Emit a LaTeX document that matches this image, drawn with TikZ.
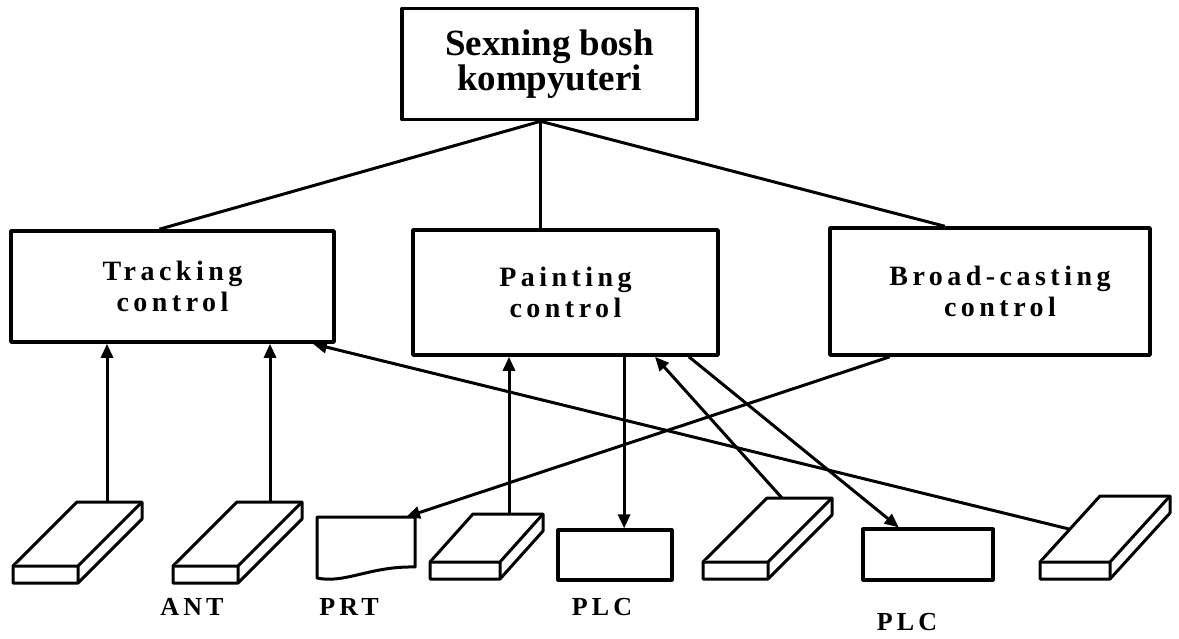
\documentclass[tikz,border=0pt]{standalone}
\usepackage{fontspec}
\setmainfont{Liberation Serif}
\newfontfamily\spacedfont[LetterSpace=16]{Liberation Serif}
\usetikzlibrary{arrows.meta,calc}

\tikzset{
  box/.style={draw, line width=3.6pt, rectangle, inner sep=0pt, align=center},
  ctl/.style={box, font=\spacedfont\bfseries\fontsize{28}{31}\selectfont},
  lbl/.style={font=\spacedfont\bfseries\fontsize{26}{28}\selectfont, anchor=base, inner sep=0pt},
  link/.style={line width=3pt},
  arr/.style={link, -{Triangle[length=14pt,width=12pt]}},
  slab/.style={line width=3pt, line join=round, fill=white},
  % flat device seen in perspective: back-left corner at the origin,
  % args: width, depth shift in x, depth shift in y
  pics/slabdev/.style n args={3}{code={
    \draw[slab] (0,0) -- (#1,0) -- (#1,17) -- (#1-#2,#3+17) -- (-#2,#3+17) -- (-#2,#3) -- cycle;
    \draw[slab] (-#2,#3) -- (#1-#2,#3) -- (#1,0) (#1-#2,#3) -- (#1-#2,#3+17);
  }}
}

\begin{document}
\begin{tikzpicture}[x=1pt,y=-1pt,line join=round]
\useasboundingbox (0,0) rectangle (1179,639);

% main computer and the three control units
\node[box, minimum width=295pt, minimum height=111pt,
      font=\bfseries\fontsize{37}{35}\selectfont] (pc) at (549.5,64) {Sexning bosh\\kompyuteri};
\node[ctl, minimum width=323pt, minimum height=111pt] (trk) at (172.5,286.5) {Tracking\\control};
\node[ctl, minimum width=305pt, minimum height=125pt] (pnt) at (565.5,292.5) {Painting\\control};
\node[ctl, minimum width=320pt, minimum height=127pt] (brd) at (990,291.5)
  {\hspace*{20pt}Broad-casting\\\hspace*{20pt}control};

% PLC boxes
\node[box, line width=3.2pt, minimum width=114pt, minimum height=50pt] (plc1) at (615,555) {};
\node[box, line width=3.2pt, minimum width=130pt, minimum height=51pt] (plc2) at (928,554.5) {};

% attachment points on the field devices
\coordinate (d1) at (107,502);
\coordinate (d2) at (270,502);
\coordinate (d3) at (509,514);
\coordinate (d4) at (782,498);
\coordinate (d5) at (1069,529);
\coordinate (prt) at (406,517);

% bus from the main computer
\coordinate (hub) at ($(pc.south west)!0.47!(pc.south east)$);
\draw[link] (hub) -- ($(trk.north west)!0.46!(trk.north east)$);
\draw[link] (hub) -- (hub |- pnt.north);
\draw[link] (hub) -- ($(brd.north west)!0.36!(brd.north east)$);

% tracking links
\draw[arr] (d1) -- (d1 |- trk.south);
\draw[arr] (d2) -- (d2 |- trk.south);
\draw[arr] (d5) -- ($(trk.south west)!0.93!(trk.south east)$);

% painting links
\coordinate (p1) at ($(pnt.south west)!0.69!(pnt.south east)$);
\draw[arr] (d3) -- (d3 |- pnt.south);
\draw[arr] (p1) -- (p1 |- plc1.north);
\draw[arr] (d4) -- ($(pnt.south west)!0.79!(pnt.south east)$);
\draw[arr] ($(pnt.south west)!0.90!(pnt.south east)$) -- ($(plc2.north west)!0.28!(plc2.north east)$);

% broadcasting link to the printer
\draw[arr] ($(brd.south west)!0.19!(brd.south east)$) -- (prt);

% field devices
\pic at (77,502) {slabdev={65}{64}{64}};
\pic at (237,502) {slabdev={65}{64}{64}};
\pic at (473,514) {slabdev={70}{43}{48}};
\pic at (767,498) {slabdev={65}{64}{64}};
\pic at (1100,496) {slabdev={70}{60}{66}};

% printer (document shape)
\draw[slab] (317,517) -- (415,517) -- (415,567)
  .. controls (370,566) and (345,584) .. (317,578) -- cycle;

% device labels
\node[lbl] (lant) at (192,615) {ANT};
\node[lbl] (lprt) at (349,615) {PRT};
\node[lbl] (lplc1) at (602,615) {PLC};
\node[lbl] (lplc2) at (907,630) {PLC};
\end{tikzpicture}
\end{document}
